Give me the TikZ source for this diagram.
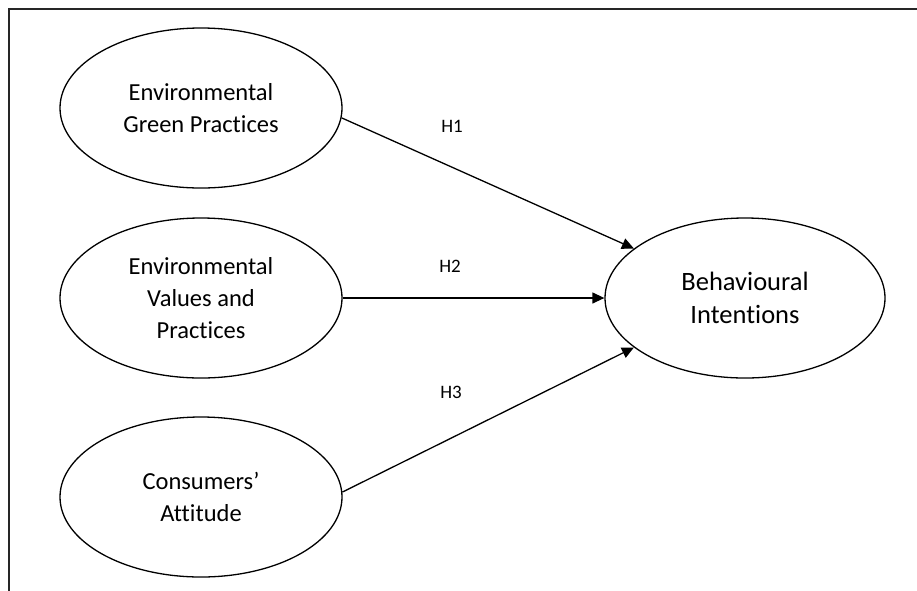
\documentclass[tikz,border=0pt]{standalone}
\usepackage{fontspec}
\setmainfont[Ligatures={NoCommon}]{Carlito}
\usetikzlibrary{shapes.geometric,arrows.meta}
\tikzset{
  construct/.style={draw=black, line width=1.3pt, ellipse, minimum width=282pt, minimum height=160pt, inner sep=0pt, align=center, font=\fontsize{24.5}{32}\selectfont},
  hyp/.style={font=\fontsize{19}{22}\selectfont, inner sep=0pt},
  path/.style={draw=black, line width=1.3pt, -{Triangle[length=12pt,width=11pt]}},
  frame/.style={draw=black!85, line width=2pt}
}
\begin{document}
\begin{tikzpicture}[x=1pt,y=-1pt]
\useasboundingbox (0,0) rectangle (917,590);
\fill[white] (0,0) rectangle (917,590);
\draw[frame] (9,600) -- (9,9) -- (930,9);
\node[construct] (egp) at (201,108) {Environmental\\Green Practices};
\node[construct] (evp) at (201,298) {Environmental\\Values and\\Practices};
\node[construct] (ca) at (201,497) {Consumers’\\Attitude};
\node[construct, minimum width=280pt, font=\fontsize{26.5}{33}\selectfont] (bi) at (745,298) {Behavioural\\Intentions};
\node[hyp] (h1) at (452,126) {H1};
\node[hyp] (h2) at (450,266) {H2};
\node[hyp] (h3) at (451,392) {H3};
\draw[path] (egp.-4) -- (bi.156);
\draw[path] (evp.east) -- (bi.west);
\draw[path] (ca.2) -- (bi.204.5);
\end{tikzpicture}
\end{document}
